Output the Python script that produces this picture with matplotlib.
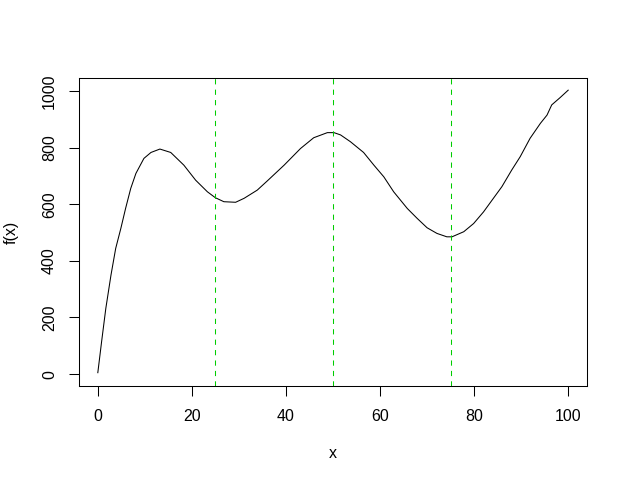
import matplotlib
matplotlib.use('Agg')
import matplotlib.pyplot as plt

# pontos da curva
x_vals = [0, 0.8, 1.7, 2.8, 3.8, 4.9, 5.9, 7.0, 8.1, 9.8, 11.3, 13.2, 15.5, 18.3,
          20.8, 23.3, 25.0, 26.8, 29.3, 31.1, 33.9, 36.0, 39.6, 43.1, 45.9, 48.8,
          50.2, 51.6, 53.7, 56.5, 58.7, 60.8, 62.9, 65.8, 67.9, 70.0, 72.1, 74.2,
          75.3, 77.8, 79.9, 82.0, 84.1, 85.9, 88.0, 89.8, 91.9, 94.1, 95.5, 96.5,
          98.3, 100]
f_vals = [5, 114, 232, 350, 444, 515, 585, 656, 709, 762, 783, 795, 783, 738,
          685, 644, 623, 609, 607, 621, 650, 682, 738, 797, 835, 853,
          853, 845, 821, 783, 738, 697, 644, 585, 550, 517, 497, 485,
          485, 503, 532, 573, 621, 662, 721, 768, 833, 886, 915, 951,
          977, 1003]

# linhas verticais tracejadas
vlinhas = [25, 50, 75]

x_ticks = [0, 20, 40, 60, 80, 100]
y_ticks = [0, 200, 400, 600, 800, 1000]

plt.rcParams['font.family'] = ['Liberation Sans', 'DejaVu Sans']

fig = plt.figure(figsize=(6.28, 4.84), dpi=100)
ax = fig.add_axes([79 / 628, 1 - 386 / 484, (587 - 79) / 628, (386 - 78) / 484])

ax.plot(x_vals, f_vals, color='black', lw=0.75)
for v in vlinhas:
    ax.axvline(v, color='#00CD00', lw=0.75, dashes=(5, 5))

ax.set_xlim(-4, 104)
ax.set_ylim(-42, 1046)
ax.set_xticks(x_ticks)
ax.set_yticks(y_ticks)
ax.set_yticklabels([str(t) for t in y_ticks], rotation=90, va='center')

ax.tick_params(axis='both', length=6.9, width=0.75, labelsize=11.5, direction='out')
ax.tick_params(axis='x', pad=9.5)
ax.tick_params(axis='y', pad=9)
for s in ax.spines.values():
    s.set_linewidth(0.75)

ax.set_xlabel('x', fontsize=11.5, labelpad=16)
ax.set_ylabel('f(x)', fontsize=11.5, labelpad=17)

fig.savefig('out.png', dpi=100)
